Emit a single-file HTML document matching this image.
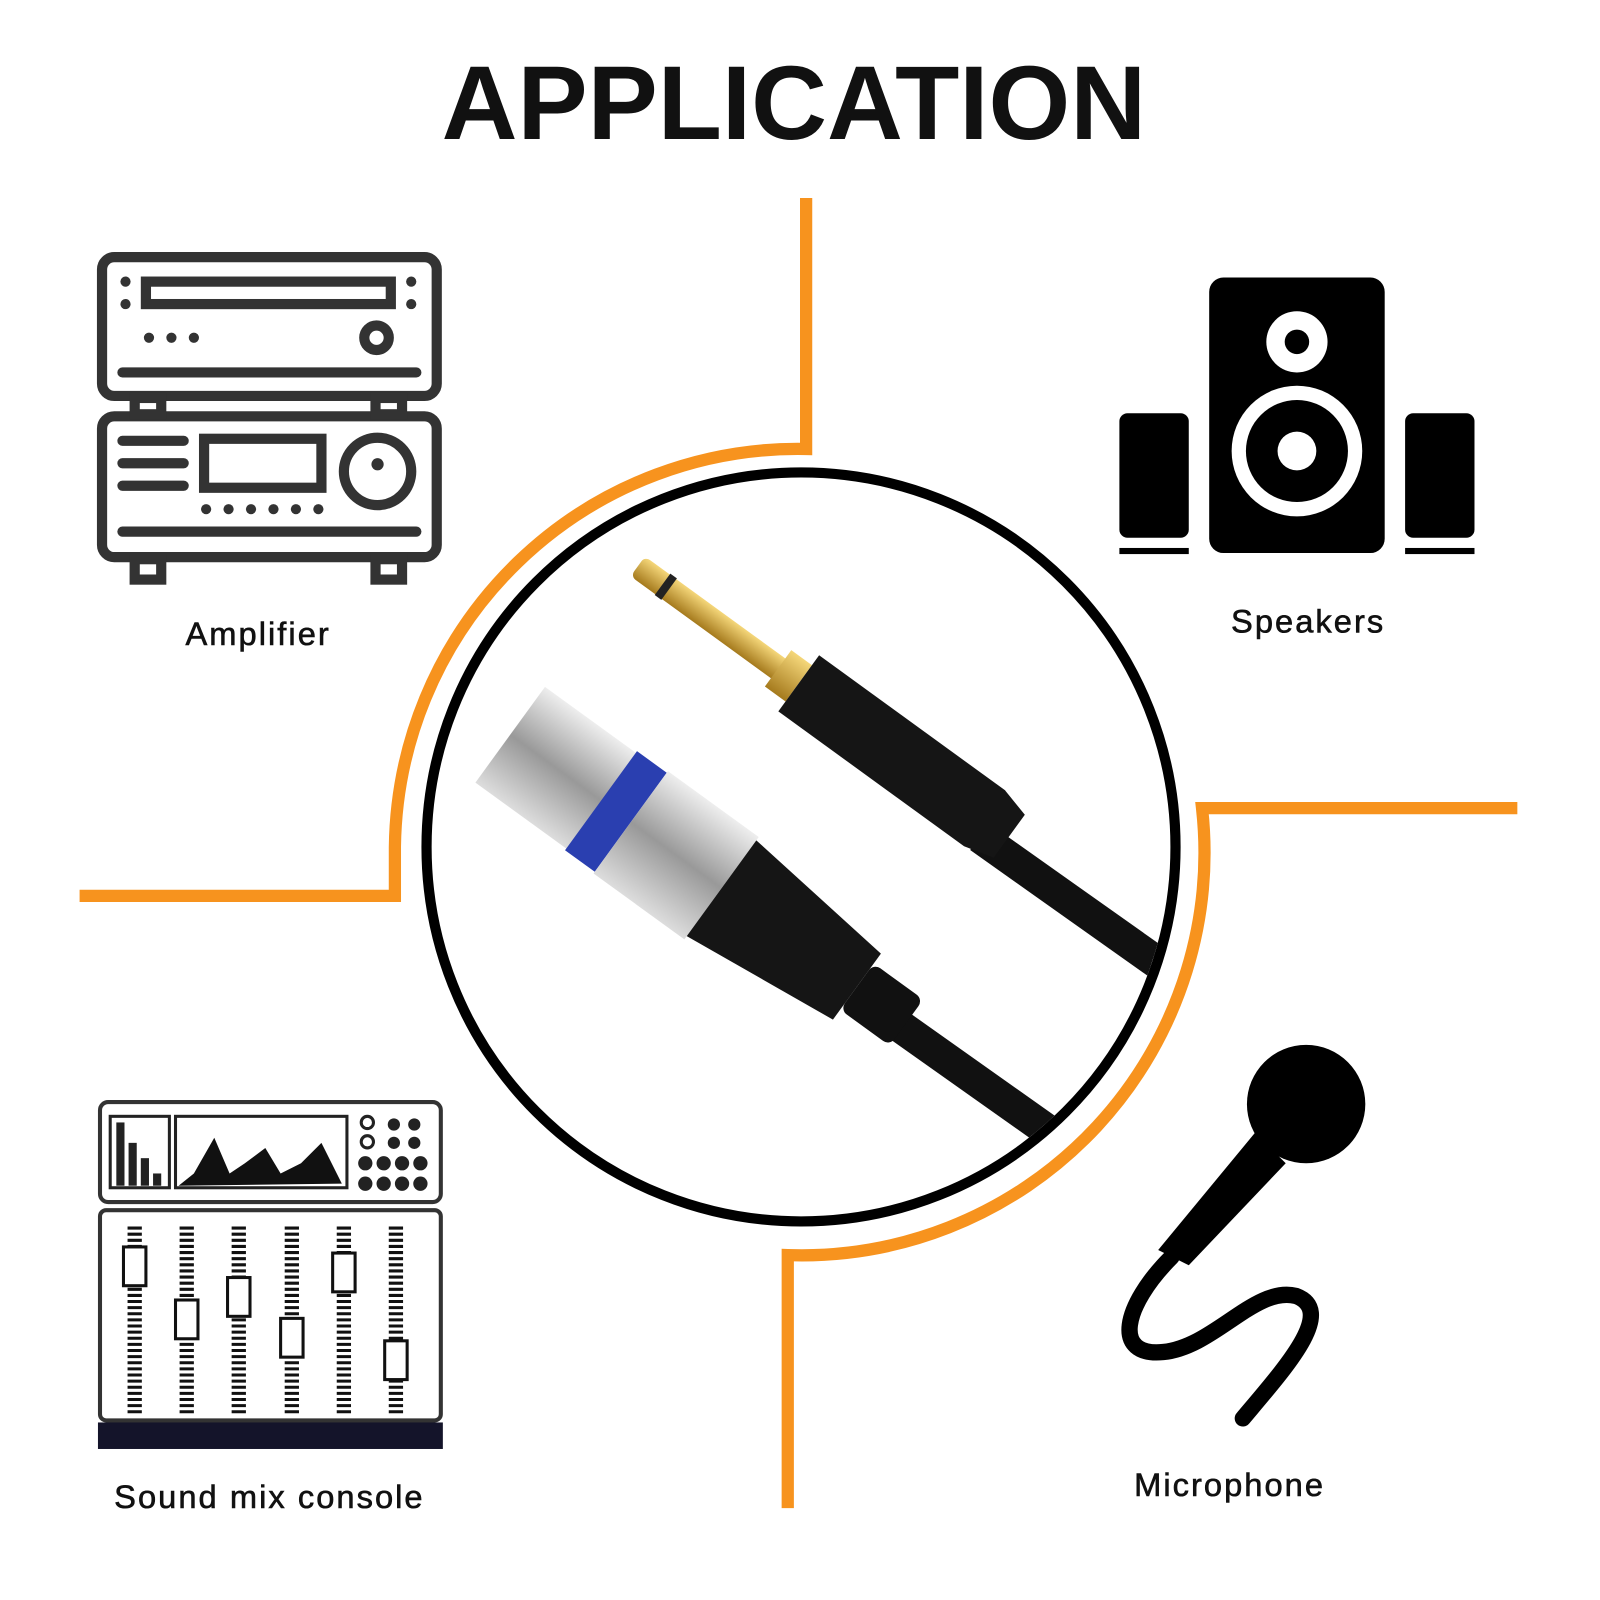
<!DOCTYPE html>
<html><head><meta charset="utf-8"><style>
html,body{margin:0;padding:0;background:#fff;width:1600px;height:1600px;overflow:hidden}
svg{display:block}
.lb{font-family:"Liberation Sans",sans-serif;font-size:32px;letter-spacing:2px;fill:#111;stroke:#111;stroke-width:0.6}
</style></head><body>
<svg width="1600" height="1600" viewBox="0 0 1568 1568" xmlns="http://www.w3.org/2000/svg">
<rect width="1568" height="1568" fill="#fff"/>
<text x="778" y="136" text-anchor="middle" font-family="Liberation Sans, sans-serif" font-weight="bold" font-size="103" fill="#111">APPLICATION</text>

<g fill="none" stroke="#f7931e" stroke-width="12">
<path d="M790 194 V440 A395 395 0 0 0 387 830 V878 H78"/>
<path d="M1487 792 H1178 A395 395 0 0 1 772 1230 V1478"/>
</g>
<circle cx="785" cy="830" r="367" fill="#fff" stroke="#000" stroke-width="10"/>

<defs>
<clipPath id="cc"><circle cx="785" cy="830" r="362"/></clipPath>
<linearGradient id="silver" x1="0" y1="0" x2="0" y2="1"><stop offset="0" stop-color="#eee"/><stop offset="0.5" stop-color="#999"/><stop offset="1" stop-color="#ddd"/></linearGradient>
<linearGradient id="gold" x1="0" y1="0" x2="0" y2="1"><stop offset="0" stop-color="#f5d77a"/><stop offset="1" stop-color="#a57a1d"/></linearGradient>
</defs>
<g clip-path="url(#cc)">
<path d="M960 820 L1200 990" stroke="#111" stroke-width="32" fill="none"/>
<path d="M860 990 L1100 1160" stroke="#111" stroke-width="32" fill="none"/>
<g transform="translate(625,555) rotate(36)">
<rect x="0" y="-12" width="180" height="24" fill="url(#gold)" rx="6"/>
<rect x="30" y="-13" width="8" height="26" fill="#222"/>
<rect x="170" y="-22" width="25" height="44" fill="url(#gold)"/>
<path d="M195 -34 H420 L450 -26 V26 L420 34 H195 Z" fill="#151515"/>
</g>
<g transform="translate(500,720) rotate(36)">
<rect x="0" y="-58" width="120" height="116" fill="url(#silver)"/>
<rect x="110" y="-60" width="36" height="120" fill="#2a3fb0"/>
<rect x="146" y="-62" width="110" height="124" fill="url(#silver)"/>
<path d="M256 -58 L420 -40 V40 L256 58 Z" fill="#151515"/>
<rect x="420" y="-28" width="60" height="56" fill="#111" rx="8"/>
</g>
</g>

<g fill="none" stroke="#333" stroke-width="10" stroke-linecap="round">
<rect x="100" y="252" width="328" height="136" rx="12"/>
<rect x="143" y="276" width="240" height="22"/>
<circle cx="369" cy="331" r="12"/>
<line x1="120" y1="365" x2="408" y2="365"/>
<rect x="100" y="408" width="328" height="138" rx="12"/>
<line x1="120" y1="432" x2="180" y2="432"/><line x1="120" y1="454" x2="180" y2="454"/><line x1="120" y1="476" x2="180" y2="476"/>
<rect x="200" y="430" width="115" height="48"/>
<circle cx="370" cy="462" r="33"/>
<line x1="120" y1="521" x2="408" y2="521"/>
<rect x="132" y="548" width="26" height="20"/><rect x="368" y="548" width="26" height="20"/>
<rect x="132" y="390" width="26" height="16"/><rect x="368" y="390" width="26" height="16"/>
</g>
<g fill="#333"><circle cx="123" cy="276" r="5"/><circle cx="123" cy="298" r="5"/><circle cx="403" cy="276" r="5"/><circle cx="403" cy="298" r="5"/>
<circle cx="146" cy="331" r="5"/><circle cx="168" cy="331" r="5"/><circle cx="190" cy="331" r="5"/>
<circle cx="370" cy="455" r="6"/>
<circle cx="202" cy="499" r="5"/><circle cx="224" cy="499" r="5"/><circle cx="246" cy="499" r="5"/><circle cx="268" cy="499" r="5"/><circle cx="290" cy="499" r="5"/><circle cx="312" cy="499" r="5"/></g>
<text x="253" y="632" text-anchor="middle" class="lb">Amplifier</text>

<rect x="1185" y="272" width="172" height="270" rx="14" fill="#000"/>
<circle cx="1271" cy="335" r="30" fill="#fff"/><circle cx="1271" cy="335" r="12" fill="#000"/>
<circle cx="1271" cy="442" r="64" fill="#fff"/><circle cx="1271" cy="442" r="50" fill="#000"/><circle cx="1271" cy="442" r="19" fill="#fff"/>
<rect x="1097" y="405" width="68" height="122" rx="8" fill="#000"/>
<rect x="1377" y="405" width="68" height="122" rx="8" fill="#000"/>
<rect x="1097" y="537" width="68" height="6" fill="#000"/><rect x="1377" y="537" width="68" height="6" fill="#000"/>
<text x="1282" y="620" text-anchor="middle" class="lb">Speakers</text>

<rect x="98" y="1080" width="334" height="98" rx="8" fill="#fff" stroke="#333" stroke-width="4"/>
<rect x="98" y="1186" width="334" height="206" rx="6" fill="#fff" stroke="#333" stroke-width="4"/>
<rect x="96" y="1394" width="338" height="26" fill="#14142a"/>
<rect x="108" y="1094" width="58" height="70" fill="none" stroke="#222" stroke-width="3"/>
<rect x="172" y="1094" width="168" height="70" fill="none" stroke="#222" stroke-width="3"/>
<path d="M175 1162 L190 1150 L210 1115 L225 1150 L240 1140 L260 1125 L275 1150 L295 1140 L315 1120 L335 1160 Z" fill="#111"/>
<g fill="#222"><rect x="114" y="1100" width="8" height="62"/><rect x="126" y="1120" width="8" height="42"/><rect x="138" y="1135" width="8" height="27"/><rect x="150" y="1150" width="8" height="12"/></g>
<g fill="#222"><circle cx="386" cy="1102" r="6"/><circle cx="406" cy="1102" r="6"/><circle cx="386" cy="1120" r="6"/><circle cx="406" cy="1120" r="6"/>
<circle cx="358" cy="1140" r="7"/><circle cx="376" cy="1140" r="7"/><circle cx="394" cy="1140" r="7"/><circle cx="412" cy="1140" r="7"/>
<circle cx="358" cy="1160" r="7"/><circle cx="376" cy="1160" r="7"/><circle cx="394" cy="1160" r="7"/><circle cx="412" cy="1160" r="7"/></g>
<circle cx="360" cy="1100" r="6" fill="none" stroke="#222" stroke-width="3"/><circle cx="360" cy="1119" r="6" fill="none" stroke="#222" stroke-width="3"/>
<g stroke="#111" stroke-width="14" stroke-dasharray="3 3">
<line x1="132" y1="1202" x2="132" y2="1385"/><line x1="183" y1="1202" x2="183" y2="1385"/><line x1="234" y1="1202" x2="234" y2="1385"/>
<line x1="286" y1="1202" x2="286" y2="1385"/><line x1="337" y1="1202" x2="337" y2="1385"/><line x1="388" y1="1202" x2="388" y2="1385"/>
</g>
<g fill="#fff" stroke="#111" stroke-width="3">
<rect x="121" y="1222" width="22" height="38"/><rect x="172" y="1274" width="22" height="38"/><rect x="223" y="1252" width="22" height="38"/>
<rect x="275" y="1292" width="22" height="38"/><rect x="326" y="1228" width="22" height="38"/><rect x="377" y="1314" width="22" height="38"/>
</g>
<text x="264" y="1478" text-anchor="middle" class="lb">Sound mix console</text>

<circle cx="1280" cy="1082" r="58" fill="#000"/>
<path d="M1230 1110 L1260 1140 L1165 1240 L1135 1225 Z" fill="#000"/>
<path d="M1148 1232 C1100 1280 1090 1330 1140 1325 C1190 1320 1230 1260 1270 1270 C1310 1285 1260 1340 1218 1390" fill="none" stroke="#000" stroke-width="16" stroke-linecap="round"/>
<text x="1205" y="1466" text-anchor="middle" class="lb">Microphone</text>
</svg>
</body></html>
